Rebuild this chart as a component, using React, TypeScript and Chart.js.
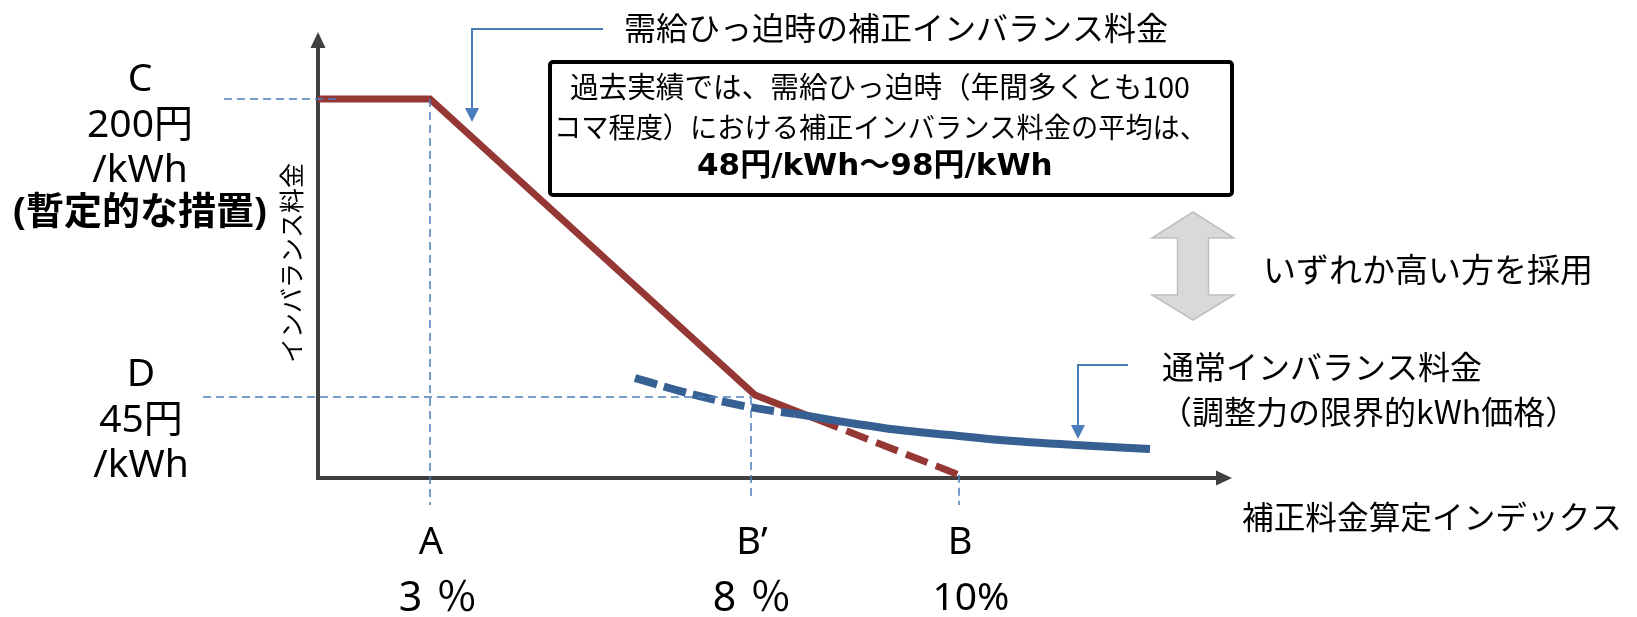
import React, { useEffect, useRef } from "react";
import { Chart, registerables } from "chart.js";

Chart.register(...registerables);

const W = 1637;
const H = 617;

// ---- data (schematic diagram units: x = index position, y = 円/kWh) ----
const pointLabels = ["A", "B’", "B"];
const pointPercents = ["3％", "8％", "10%"];
const pointX = [11.2, 43.3, 64.1];
const labelsC = ["C", "200円", "/kWh", "(暫定的な措置)"];
const labelsD = ["D", "45円", "/kWh"];
const levelC = 200;
const levelD = 45;

// 需給ひっ迫時の補正インバランス料金 (solid, then dashed extension to B)
const tightX = [0, 11.2, 43.7, 52.0, 64.1];
const tightY = [200, 200, 46, 29.1, 4.5];

// 通常インバランス料金 (dashed part, then solid)
const normalX = [31.7, 36.2, 40.2, 44.2, 47.7, 53.2, 58.2, 63.2, 68.2, 75.7, 83.2];
const normalY = [54.9, 48.1, 42.9, 38.8, 36.2, 31.5, 27.8, 25.2, 22.6, 20.0, 18.0];

const titleTight = "需給ひっ迫時の補正インバランス料金";
const boxLines = [
  "過去実績では、需給ひっ迫時（年間多くとも100",
  "コマ程度）における補正インバランス料金の平均は、",
  "48円/kWh～98円/kWh",
];
const adoptText = "いずれか高い方を採用";
const normalLines = ["通常インバランス料金", "（調整力の限界的kWh価格）"];
const xAxisTitle = "補正料金算定インデックス";
const yAxisTitle = "インバランス料金";

const JP = '"Noto Sans CJK JP", "Noto Sans", sans-serif';
const LAT = '"Noto Sans", "Noto Sans CJK JP", sans-serif';
const WIDE = '"DejaVu Sans", "Noto Sans CJK JP", sans-serif';

const GUIDE = "#4A7EBB";
const AXIS = "#404040";

function txt(
  ctx: CanvasRenderingContext2D,
  s: string,
  x: number,
  y: number,
  o: { size: number; bold?: boolean; align?: CanvasTextAlign; maxWidth?: number; family?: string; spacing?: number }
) {
  ctx.save();
  ctx.font = `${o.bold ? "bold " : ""}${o.size}px ${o.family || JP}`;
  if (o.spacing) (ctx as any).letterSpacing = `${o.spacing}px`;
  ctx.fillStyle = "#000";
  ctx.textAlign = o.align || "left";
  ctx.textBaseline = "middle";
  if (o.maxWidth) ctx.fillText(s, x, y, o.maxWidth);
  else ctx.fillText(s, x, y);
  ctx.restore();
}

function dashed(ctx: CanvasRenderingContext2D, x1: number, y1: number, x2: number, y2: number) {
  ctx.save();
  ctx.strokeStyle = GUIDE;
  ctx.lineWidth = 1.5;
  ctx.setLineDash([8, 5]);
  ctx.beginPath();
  ctx.moveTo(x1, y1);
  ctx.lineTo(x2, y2);
  ctx.stroke();
  ctx.restore();
}

function callout(ctx: CanvasRenderingContext2D, xStart: number, xCorner: number, yTop: number, yTip: number) {
  ctx.save();
  ctx.strokeStyle = GUIDE;
  ctx.fillStyle = GUIDE;
  ctx.lineWidth = 2;
  ctx.beginPath();
  ctx.moveTo(xStart, yTop);
  ctx.lineTo(xCorner, yTop);
  ctx.lineTo(xCorner, yTip - 13);
  ctx.stroke();
  ctx.beginPath();
  ctx.moveTo(xCorner - 7, yTip - 14);
  ctx.lineTo(xCorner + 7, yTip - 14);
  ctx.lineTo(xCorner, yTip);
  ctx.closePath();
  ctx.fill();
  ctx.restore();
}

const diagramPlugin = {
  id: "diagram",
  beforeDraw(chart: any) {
    const ctx = chart.ctx as CanvasRenderingContext2D;
    ctx.save();
    ctx.fillStyle = "#fff";
    ctx.fillRect(0, 0, chart.width, chart.height);
    ctx.restore();
  },
  beforeDatasetsDraw(chart: any) {
    const ctx = chart.ctx as CanvasRenderingContext2D;
    const a = chart.chartArea;
    ctx.save();
    ctx.strokeStyle = AXIS;
    ctx.fillStyle = AXIS;
    ctx.lineWidth = 4;
    ctx.beginPath();
    ctx.moveTo(a.left, a.bottom + 2);
    ctx.lineTo(a.left, a.top + 14);
    ctx.moveTo(a.left - 2, a.bottom);
    ctx.lineTo(a.right - 14, a.bottom);
    ctx.stroke();
    ctx.beginPath();
    ctx.moveTo(a.left, a.top);
    ctx.lineTo(a.left - 7.5, a.top + 16);
    ctx.lineTo(a.left + 7.5, a.top + 16);
    ctx.closePath();
    ctx.fill();
    ctx.beginPath();
    ctx.moveTo(a.right, a.bottom);
    ctx.lineTo(a.right - 16, a.bottom - 7.5);
    ctx.lineTo(a.right - 16, a.bottom + 7.5);
    ctx.closePath();
    ctx.fill();
    ctx.restore();
  },
  afterDatasetsDraw(chart: any) {
    const ctx = chart.ctx as CanvasRenderingContext2D;
    const xs = chart.scales.x;
    const ys = chart.scales.y;
    const a = chart.chartArea;
    const yC = ys.getPixelForValue(levelC);
    const yD = ys.getPixelForValue(levelD);
    const xA = xs.getPixelForValue(pointX[0]);
    const xBp = xs.getPixelForValue(pointX[1]);
    const xB = xs.getPixelForValue(pointX[2]);
    dashed(ctx, a.left - 94, yC, a.left + 20, yC);
    dashed(ctx, xA, yC, xA, a.bottom + 27);
    dashed(ctx, a.left - 115, yD, xBp, yD);
    dashed(ctx, xBp, yD, xBp, a.bottom + 22);
    dashed(ctx, xB, ys.getPixelForValue(tightY[tightY.length - 1]), xB, a.bottom + 27);
  },
  afterDraw(chart: any) {
    const ctx = chart.ctx as CanvasRenderingContext2D;
    const xs = chart.scales.x;

    // callouts
    callout(ctx, 603, 472, 29, 122);
    callout(ctx, 1128, 1078, 365, 439);

    // title of the tight-supply curve
    txt(ctx, titleTight, 624, 28, { size: 32, maxWidth: 551 });

    // box
    ctx.save();
    ctx.strokeStyle = "#000";
    ctx.lineWidth = 4;
    ctx.beginPath();
    (ctx as any).roundRect(550, 62, 682, 133, 3);
    ctx.stroke();
    ctx.restore();
    txt(ctx, boxLines[0], 570, 87, { size: 29, maxWidth: 620 });
    txt(ctx, boxLines[1], 554, 127, { size: 28, maxWidth: 653 });
    txt(ctx, boxLines[2], 697, 167, { size: 31, bold: true, maxWidth: 376, family: WIDE });

    // double arrow
    ctx.save();
    ctx.fillStyle = "#D9D9D9";
    ctx.strokeStyle = "#BFBFBF";
    ctx.lineWidth = 1.5;
    const cx = 1193;
    ctx.beginPath();
    ctx.moveTo(cx, 212);
    ctx.lineTo(cx + 41, 238);
    ctx.lineTo(cx + 15.5, 238);
    ctx.lineTo(cx + 15.5, 295);
    ctx.lineTo(cx + 41, 295);
    ctx.lineTo(cx, 320);
    ctx.lineTo(cx - 41, 295);
    ctx.lineTo(cx - 15.5, 295);
    ctx.lineTo(cx - 15.5, 238);
    ctx.lineTo(cx - 41, 238);
    ctx.closePath();
    ctx.fill();
    ctx.stroke();
    ctx.restore();
    txt(ctx, adoptText, 1263, 269, { size: 33, maxWidth: 330 });

    txt(ctx, normalLines[0], 1162, 367, { size: 32, maxWidth: 322 });
    txt(ctx, normalLines[1], 1160, 412, { size: 32, maxWidth: 464 });

    txt(ctx, xAxisTitle, 1242, 517, { size: 32, maxWidth: 380 });

    // y-axis title (rotated)
    ctx.save();
    ctx.translate(291, 263);
    ctx.rotate(-Math.PI / 2);
    txt(ctx, yAxisTitle, 0, 0, { size: 25, align: "center", maxWidth: 204 });
    ctx.restore();

    // left level labels
    const cYs = [80, 126, 171, 213];
    labelsC.forEach((s, i) =>
      txt(ctx, s, 140, cYs[i], {
        size: i === 3 ? 38 : 39,
        bold: i === 3,
        align: "center",
        family: LAT,
        maxWidth: i === 3 ? 262 : undefined,
      })
    );
    const dYs = [375, 421, 466];
    labelsD.forEach((s, i) => txt(ctx, s, 141, dYs[i], { size: 39, align: "center", family: LAT }));

    // index labels
    const pctShift = [15, 8, 12];
    pointLabels.forEach((s, i) => {
      const px = xs.getPixelForValue(pointX[i]);
      txt(ctx, s, px + 1, 543, { size: 38, align: "center", family: LAT });
      const pct = pointPercents[i];
      const wide = pct.includes("％");
      txt(ctx, pct, px + pctShift[i], 599, {
        size: wide ? 41 : 39,
        align: "center",
        family: LAT,
        spacing: wide ? 14 : 0,
      });
    });
  },
};

export default function App() {
  const ref = useRef<HTMLCanvasElement | null>(null);
  useEffect(() => {
    if (!ref.current) return;
    const chart = new Chart(ref.current, {
      type: "line",
      data: {
        datasets: [
          {
            label: "通常インバランス料金",
            data: normalX.map((x, i) => ({ x, y: normalY[i] })),
            borderColor: "#376092",
            borderWidth: 8,
            pointRadius: 0,
            fill: false,
            cubicInterpolationMode: "monotone",
            order: 0,
            segment: {
              borderDash: (c: any) => (c.p0DataIndex < 4 ? [23, 7] : undefined),
            },
          } as any,
          {
            label: "需給ひっ迫時の補正インバランス料金",
            data: tightX.map((x, i) => ({ x, y: tightY[i] })),
            borderColor: "#953735",
            borderWidth: 7,
            pointRadius: 0,
            fill: false,
            tension: 0,
            order: 1,
            segment: {
              borderDash: (c: any) => (c.p0DataIndex >= 3 ? [23, 9] : undefined),
              borderDashOffset: (c: any) => (c.p0DataIndex >= 3 ? 23 : undefined),
            },
          } as any,
        ],
      },
      options: {
        animation: false,
        responsive: false,
        maintainAspectRatio: false,
        events: [],
        layout: { padding: { left: 318, right: W - 1232, top: 32, bottom: H - 478 } },
        scales: {
          x: { type: "linear", min: 0, max: 91.4, display: false },
          y: { type: "linear", min: 2.87, max: 234.85, display: false },
        },
        plugins: { legend: { display: false }, tooltip: { enabled: false }, title: { display: false } },
      },
      plugins: [diagramPlugin],
    });
    return () => chart.destroy();
  }, []);
  return (
    <div style={{ position: "absolute", left: 0, top: 0, width: W, height: H, background: "#fff" }}>
      <canvas ref={ref} width={W} height={H} style={{ display: "block", width: W, height: H }} />
    </div>
  );
}
